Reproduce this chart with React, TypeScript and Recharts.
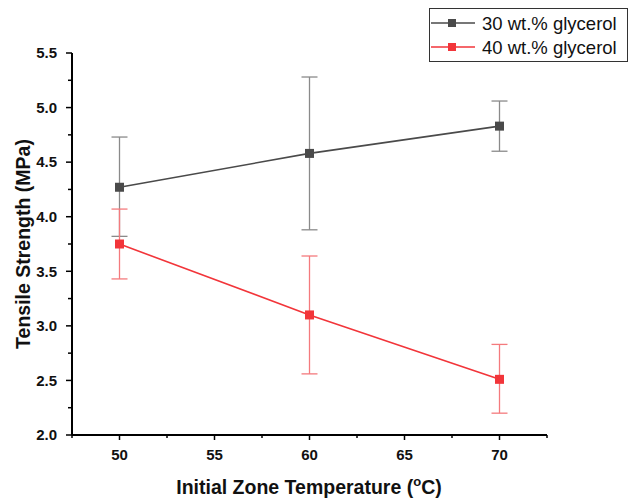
import { ComposedChart, Line, XAxis, YAxis, ErrorBar, Label } from "recharts"

const temps = [50, 60, 70]
const g30 = [4.27, 4.58, 4.83]
const g30Hi = [4.73, 5.28, 5.06]
const g30Lo = [3.82, 3.88, 4.6]
const g40 = [3.75, 3.1, 2.51]
const g40Hi = [4.07, 3.64, 2.83]
const g40Lo = [3.43, 2.56, 2.2]

const xTicks = [47.5, 50, 52.5, 55, 57.5, 60, 62.5, 65, 67.5, 70, 72.5]
const yTicks = [2, 2.25, 2.5, 2.75, 3, 3.25, 3.5, 3.75, 4, 4.25, 4.5, 4.75, 5, 5.25, 5.5]

const GRAY = "#4a4a4a"
const RED = "#f2353a"
const FONT = "'Liberation Sans', Arial, sans-serif"

const data = temps.map((t, i) => ({
  temp: t,
  g30: g30[i],
  g30Err: [g30[i] - g30Lo[i], g30Hi[i] - g30[i]],
  g40: g40[i],
  g40Err: [g40[i] - g40Lo[i], g40Hi[i] - g40[i]],
}))

function YTick(props: any) {
  const { x, y, payload } = props
  const v = payload.value
  const major = Math.abs(v * 2 - Math.round(v * 2)) < 1e-6
  return (
    <g>
      <line x1={x} x2={x - (major ? 6 : 4)} y1={y} y2={y} stroke="#000" strokeWidth={1.5} />
      {major && (
        <text x={x - 15} y={y} dy={5.3} textAnchor="end" fontSize={15} fontWeight="bold" fontFamily={FONT} fill="#111">
          {v.toFixed(1)}
        </text>
      )}
    </g>
  )
}

function XTick(props: any) {
  const { x, y, payload } = props
  const v = payload.value
  const major = Number.isInteger(v / 5)
  return (
    <g>
      <line x1={x} x2={x} y1={y} y2={y + (major ? 5 : 3)} stroke="#000" strokeWidth={1.5} />
      {major && (
        <text x={x} y={y + 25} textAnchor="middle" fontSize={15} fontWeight="bold" fontFamily={FONT} fill="#111">
          {v}
        </text>
      )}
    </g>
  )
}

function Square(props: any) {
  const { cx, cy, fill } = props
  if (cx == null || cy == null) return null
  return <rect x={cx - 4.5} y={cy - 4.5} width={9} height={9} fill={fill} />
}

function LegendBox() {
  const items = [
    { label: "30 wt.% glycerol", color: GRAY },
    { label: "40 wt.% glycerol", color: RED },
  ]
  return (
    <svg width={200} height={55} style={{ display: "block" }}>
      <rect x={0.5} y={0.5} width={198} height={53} fill="#fff" stroke="#333" strokeWidth={1} />
      {items.map((it, i) => (
        <g key={it.label}>
          <line x1={2} x2={46} y1={15 + i * 24} y2={15 + i * 24} stroke={it.color} strokeWidth={1.5} />
          <rect x={19} y={11 + i * 24} width={8} height={8} fill={it.color} />
          <text x={53} y={21.5 + i * 24} fontSize={18.5} fontFamily={FONT} fill="#111">
            {it.label}
          </text>
        </g>
      ))}
    </svg>
  )
}

export default function App() {
  return (
    <div style={{ position: "absolute", left: 0, top: 0, width: 629, height: 501, background: "#fff" }}>
      <ComposedChart width={629} height={501} data={data} margin={{ top: 53, right: 82, bottom: 0, left: 0 }}>
        <XAxis
          dataKey="temp"
          type="number"
          domain={[47.5, 72.5]}
          ticks={xTicks}
          interval={0}
          height={66}
          tickSize={0}
          tickMargin={0}
          tickLine={false}
          tick={<XTick />}
          axisLine={{ stroke: "#000", strokeWidth: 2 }}
        >
          <Label
            content={() => (
              <text x={309} y={494} textAnchor="middle" fontSize={19.5} fontWeight="bold" fontFamily={FONT} fill="#111">
                Initial Zone Temperature (
                <tspan fontSize={13} dy={-8}>o</tspan>
                <tspan dy={8}>C)</tspan>
              </text>
            )}
          />
        </XAxis>
        <YAxis
          type="number"
          domain={[2, 5.5]}
          ticks={yTicks}
          interval={0}
          width={72}
          tickSize={0}
          tickMargin={0}
          tickLine={false}
          tick={<YTick />}
          axisLine={{ stroke: "#000", strokeWidth: 2 }}
        >
          <Label
            content={() => (
              <text
                x={0}
                y={0}
                transform="translate(29.5 244) rotate(-90)"
                textAnchor="middle"
                fontSize={19.5}
                fontWeight="bold"
                fontFamily={FONT}
                fill="#111"
              >
                Tensile Strength (MPa)
              </text>
            )}
          />
        </YAxis>
        <Line
          dataKey="g30"
          name="30 wt.% glycerol"
          stroke={GRAY}
          strokeWidth={1.6}
          dot={<Square fill={GRAY} />}
          activeDot={false}
          isAnimationActive={false}
        >
          <ErrorBar dataKey="g30Err" width={8} stroke="#8a8a8a" strokeWidth={1.3} direction="y" />
        </Line>
        <Line
          dataKey="g40"
          name="40 wt.% glycerol"
          stroke={RED}
          strokeWidth={1.6}
          dot={<Square fill={RED} />}
          activeDot={false}
          isAnimationActive={false}
        >
          <ErrorBar dataKey="g40Err" width={8} stroke="#f47a7d" strokeWidth={1.3} direction="y" />
        </Line>
      </ComposedChart>
      <div style={{ position: "absolute", left: 429, top: 8 }}>
        <LegendBox />
      </div>
    </div>
  )
}
